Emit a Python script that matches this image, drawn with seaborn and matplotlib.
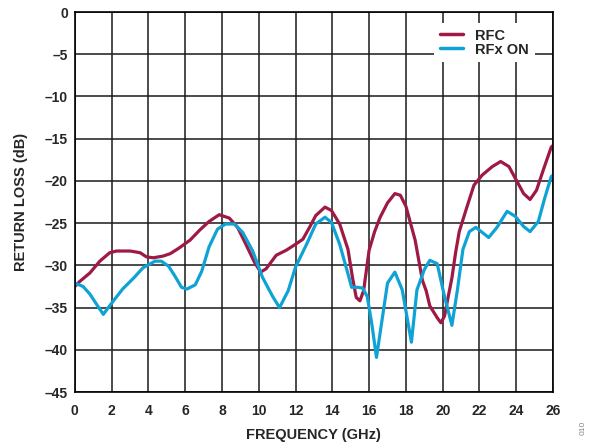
import numpy as np
import matplotlib
matplotlib.use("Agg")
import matplotlib.pyplot as plt
import seaborn as sns
import pandas as pd

# RFC trace (frequency in GHz, return loss in dB)
rfc_freq = [0, 0.27, 0.82, 1.36, 1.9, 2.27, 3.0, 3.55, 3.9, 4.27, 4.8, 5.2, 5.7, 6.27, 6.8,
            7.3, 7.85, 8.4, 8.85, 9.3, 9.76, 10.1, 10.4, 10.95, 11.5, 12.0, 12.4, 12.76, 13.1, 13.6,
            13.95, 14.4, 14.85, 15.1, 15.3, 15.5, 15.7, 16.0, 16.3, 16.6, 17.0, 17.4, 17.7, 18.0, 18.5,
            18.9, 19.1, 19.3, 19.5, 19.7, 19.9, 20.1, 20.3, 20.5, 20.7, 20.9, 21.3, 21.7, 22.15, 22.7,
            23.15, 23.6, 24.0, 24.4, 24.75, 25.1, 25.5, 25.9, 26.0]
rfc_db = [-32.5, -31.9, -30.9, -29.5, -28.5, -28.3, -28.3, -28.5, -29.0, -29.1, -28.9, -28.6, -27.9, -27.0, -25.8,
          -24.8, -24.0, -24.4, -25.5, -27.5, -29.6, -30.8, -30.4, -28.8, -28.2, -27.5, -26.9, -25.5, -24.1, -23.1,
          -23.5, -25.1, -28.1, -31.5, -33.8, -34.2, -33.0, -28.2, -26.0, -24.3, -22.6, -21.5, -21.7, -23.0, -27.0,
          -31.8, -33.0, -34.8, -35.5, -36.2, -36.8, -36.0, -33.7, -31.5, -28.5, -26.0, -23.2, -20.5, -19.3, -18.3,
          -17.7, -18.3, -19.9, -21.5, -22.2, -21.1, -18.5, -16.0, -15.8]

# RFx ON trace
rfx_freq = [0, 0.45, 0.82, 1.18, 1.55, 1.82, 2.1, 2.6, 3.2, 3.7, 4.36, 4.7, 5.1, 5.45, 5.8,
            6.1, 6.55, 6.9, 7.3, 7.76, 8.2, 8.67, 9.13, 9.67, 10.2, 10.76, 11.13, 11.6, 12.0, 12.6,
            13.1, 13.6, 13.95, 14.4, 14.85, 15.05, 15.4, 15.65, 15.9, 16.15, 16.4, 16.7, 17.0, 17.4, 17.8,
            18.05, 18.3, 18.6, 19.0, 19.3, 19.7, 20.1, 20.5, 20.8, 21.1, 21.45, 21.8, 22.15, 22.5, 22.95,
            23.5, 23.95, 24.4, 24.75, 25.2, 25.55, 25.9, 26.0]
rfx_db = [-32.1, -32.5, -33.4, -34.6, -35.8, -35.0, -34.2, -32.8, -31.5, -30.3, -29.5, -29.5, -30.1, -31.3, -32.6,
          -32.8, -32.3, -30.7, -27.8, -25.7, -25.1, -25.1, -26.1, -28.3, -31.4, -33.7, -35.0, -33.0, -30.2, -27.5,
          -25.1, -24.3, -24.9, -27.5, -31.0, -32.6, -32.6, -32.7, -33.7, -37.0, -40.9, -36.5, -32.1, -30.8, -32.9,
          -36.0, -39.1, -32.9, -30.5, -29.4, -29.8, -33.7, -37.1, -32.9, -28.1, -26.0, -25.5, -26.1, -26.7, -25.5,
          -23.6, -24.2, -25.4, -26.0, -24.8, -22.0, -19.5, -19.3]

x_ticks = list(range(0, 27, 2))
y_ticks = list(range(0, -46, -5))
y_labels = ["0"] + ["\u2013" + str(-v) for v in y_ticks[1:]]

df = pd.concat([
    pd.DataFrame({"freq": rfc_freq, "db": rfc_db, "trace": "RFC"}),
    pd.DataFrame({"freq": rfx_freq, "db": rfx_db, "trace": "RFx ON"}),
])

sns.set_style("white")
plt.rcParams["font.family"] = ["Liberation Sans", "DejaVu Sans"]
plt.rcParams["font.weight"] = "bold"

fig = plt.figure(figsize=(5.89, 4.46), dpi=100)
ax = fig.add_axes([0.127, 0.121, 0.812, 0.852])

sns.lineplot(data=df, x="freq", y="db", hue="trace", sort=False,
             palette={"RFC": "#9e1a45", "RFx ON": "#0fa3d5"},
             linewidth=2.3, ax=ax)

ax.set_xlim(0, 26)
ax.set_ylim(-45, 0)
ax.set_xticks(x_ticks)
ax.set_xticklabels([str(v) for v in x_ticks], fontsize=10, fontweight="bold")
ax.set_yticks(y_ticks)
ax.set_yticklabels(y_labels, fontsize=10, fontweight="bold")
ax.tick_params(axis="x", length=0, pad=8.5)
ax.tick_params(axis="y", length=0, pad=5)
ax.grid(True, color="#1a1a1a", linewidth=1.1)
ax.set_axisbelow(True)
for s in ax.spines.values():
    s.set_color("black")
    s.set_linewidth(1.2)

ax.set_xlabel("FREQUENCY (GHz)", fontsize=10.5, fontweight="bold", labelpad=7)
ax.set_ylabel("RETURN LOSS (dB)", fontsize=10.5, fontweight="bold", labelpad=12)

leg = ax.legend(loc="upper right", bbox_to_anchor=(0.962, 0.972), borderaxespad=0,
                frameon=True, fancybox=False, framealpha=1, edgecolor="white",
                handlelength=1.6, handletextpad=0.85, labelspacing=0.0,
                prop={"size": 10.5, "weight": "bold"})
leg.get_frame().set_linewidth(0)
for line in leg.get_lines():
    line.set_linewidth(2.5)

fig.text(0.99, 0.04, "010", rotation=90, fontsize=6, color="#888888",
         fontweight="normal", ha="center", va="center")

fig.savefig("out.png", dpi=100)
